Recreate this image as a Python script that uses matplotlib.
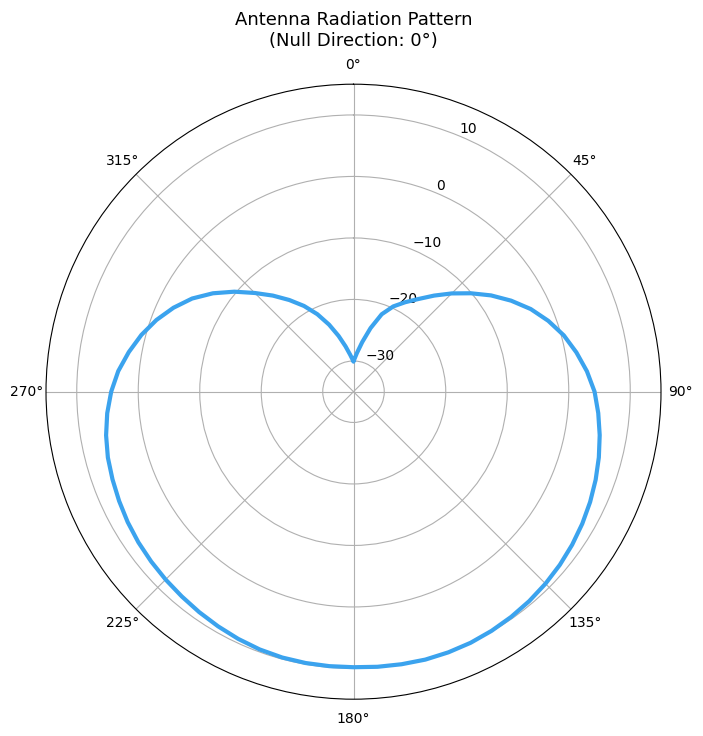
import numpy as np
import matplotlib
matplotlib.use("Agg")
import matplotlib.pyplot as plt

# angles (deg, clockwise from north) and gain (dB)
angle_deg = [0, 2, 5, 10, 15, 20, 25, 30, 35, 40, 45, 50, 55, 60, 65, 70, 75, 80, 85, 90,
             95, 100, 105, 110, 115, 120, 125, 130, 135, 140, 145, 150, 155, 160, 165, 170, 175, 180,
             185, 190, 195, 200, 205, 210, 215, 220, 225, 230, 235, 240, 245, 250, 255, 260, 265, 270,
             275, 280, 285, 290, 295, 300, 305, 310, 315, 320, 325, 330, 335, 340, 345, 350, 355, 358, 360]
gain_db = [-30.0, -29.6, -28.7, -26.8, -24.3, -21.6, -19.7, -18.2, -16.6, -14.6, -12.4, -10.1, -7.7, -5.4,
           -3.2, -1.3, 0.4, 1.8, 3.1, 4.2,
           4.95, 5.65, 6.3, 6.9, 7.45, 7.95, 8.4, 8.8, 9.15, 9.45, 9.7, 9.9, 10.05, 10.1, 10.1, 10.0, 9.9, 9.8,
           9.8, 9.8, 9.75, 9.6, 9.35, 9.05, 8.75, 8.45, 8.2, 7.95, 7.7, 7.4, 7.05, 6.7, 6.35, 5.85, 5.2, 4.4,
           3.4, 2.1, 0.7, -0.9, -2.7, -4.7, -7.1, -9.7, -12.3, -14.6, -16.8, -18.9, -21.1, -23.4,
           -25.6, -27.5, -29.0, -29.7, -30.0]
r_ticks = [-30, -20, -10, 0, 10]
null_direction = 0

fig = plt.figure(figsize=(7.03, 7.36), dpi=100)
ax = fig.add_axes([46 / 703, 36.8 / 736, 615 / 703, 615 / 736], projection="polar")
ax.set_theta_zero_location("N")
ax.set_theta_direction(-1)
ax.plot(np.deg2rad(angle_deg), gain_db, color="#3ba3ee", linewidth=3)
ax.set_ylim(-35, 15)
ax.set_yticks(r_ticks)
ax.tick_params(labelsize=10)
ax.grid(True)
ax.set_title(f"Antenna Radiation Pattern\n(Null Direction: {null_direction}°)", fontsize=13, pad=8.5)

plt.savefig("out.png", dpi=100)
